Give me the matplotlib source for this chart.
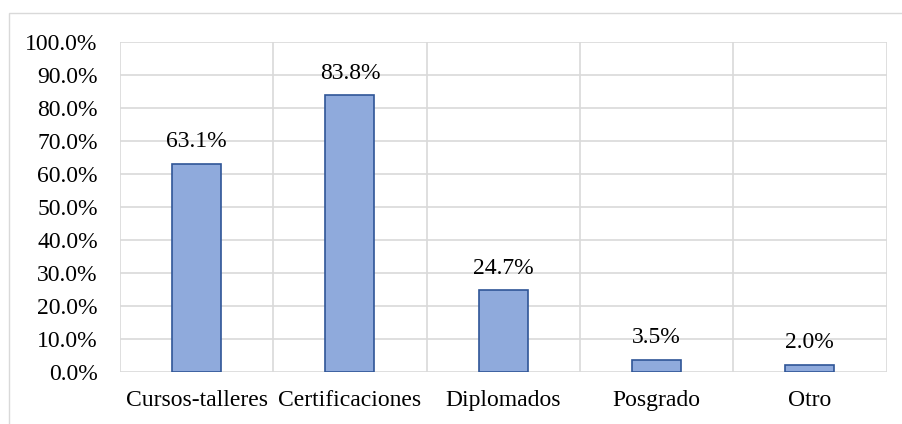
import matplotlib
matplotlib.use("Agg")
import matplotlib.pyplot as plt
from matplotlib.patches import Rectangle

categories = ["Cursos-talleres", "Certificaciones", "Diplomados", "Posgrado", "Otro"]
values = [63.1, 83.8, 24.7, 3.5, 2.0]
yticks = [0, 10, 20, 30, 40, 50, 60, 70, 80, 90, 100]

plt.rcParams['font.family'] = ['Liberation Serif', 'DejaVu Serif']
FS = 17

fig = plt.figure(figsize=(9.02, 4.24), dpi=100)
fig.patches.append(Rectangle((8.5/902, -0.1), 1.2, (424-13.5)/424 + 0.1, transform=fig.transFigure,
                             fill=False, edgecolor='#D9D9D9', linewidth=1.0))
ax = fig.add_axes([120/902, 52.5/424, (886.5-120)/902, (371.5-42)/424])

x = list(range(len(categories)))
ax.bar(x, values, width=0.32, color='#8FAADC', edgecolor='#2F5597', linewidth=1.2, zorder=3)
for xi, v in zip(x, values):
    ax.text(xi, v + 5.0, f"{v:.1f}%", ha='center', va='baseline', fontsize=FS, color='#000000')

ax.set_xlim(-0.5, len(categories) - 0.5)
ax.set_ylim(0, 100)
ax.set_yticks(yticks)
ax.set_yticklabels([f"{t:.1f}%" for t in yticks], fontsize=FS)
ax.set_xticks(x)
ax.set_xticklabels(categories, fontsize=FS)
ax.set_xticks([i - 0.5 for i in range(len(categories) + 1)], minor=True)
ax.grid(axis='y', which='major', color='#D9D9D9', linewidth=1.2, zorder=0)
ax.grid(axis='x', which='minor', color='#D9D9D9', linewidth=1.2, zorder=0)
ax.tick_params(axis='both', which='both', length=0)
ax.tick_params(axis='x', pad=13)
ax.tick_params(axis='y', pad=16)
for s in ax.spines.values():
    s.set_visible(False)

fig.savefig("out.png", dpi=100)
